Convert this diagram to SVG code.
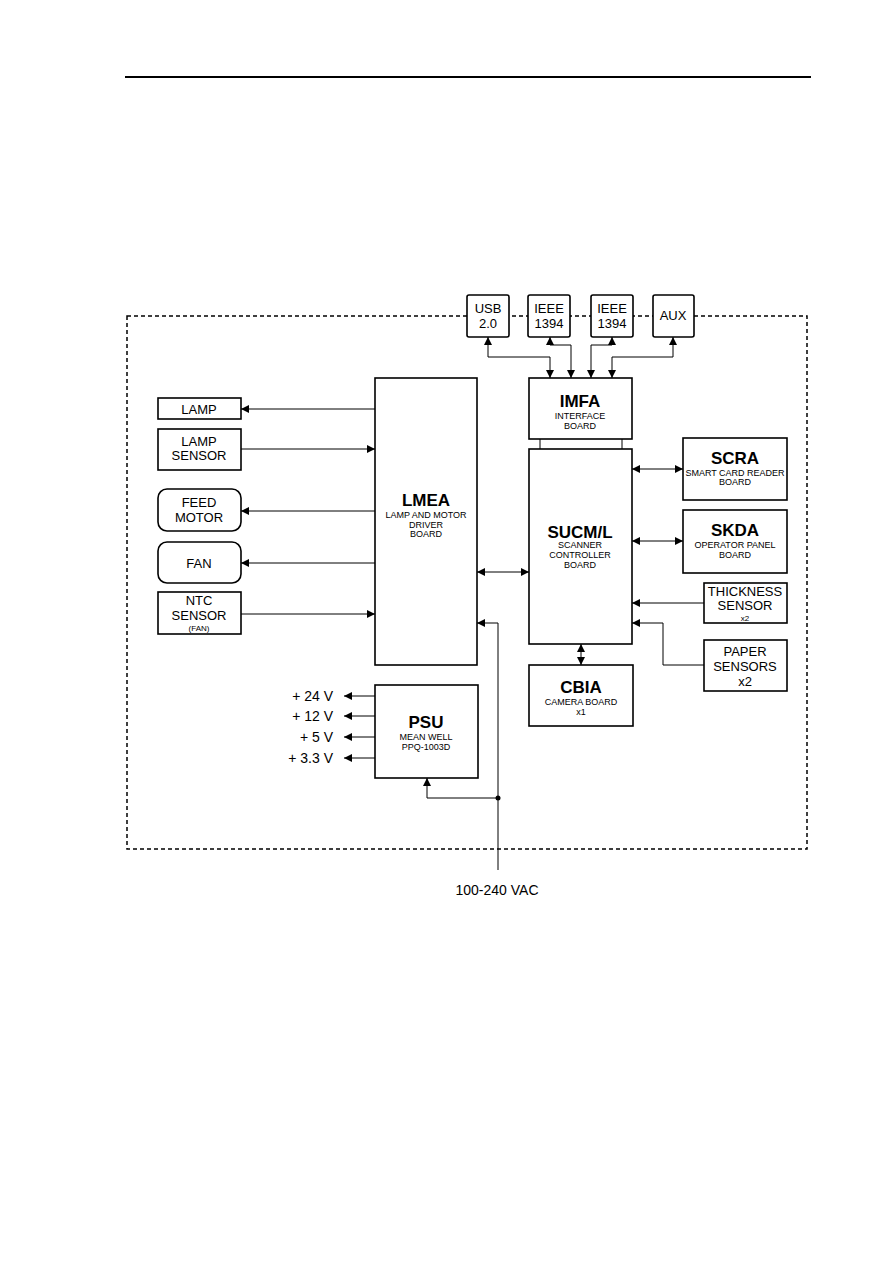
<svg xmlns="http://www.w3.org/2000/svg" width="893" height="1263" viewBox="0 0 893 1263">
<defs>
<marker id="ah" viewBox="0 0 10 10" refX="10" refY="5" markerWidth="8" markerHeight="8" markerUnits="userSpaceOnUse" orient="auto-start-reverse">
<path d="M0,0 L10,5 L0,10 Z" fill="#000"/>
</marker>
<style>
.box{fill:#fff;stroke:#000;stroke-width:1.6}
.c{fill:none;stroke:#000;stroke-width:1}
text{font-family:"Liberation Sans",Arial,sans-serif;fill:#000;text-anchor:middle}
.t{font-size:17px;font-weight:bold}
.s{font-size:9px}
.m{font-size:13px}
.v{font-size:14px;text-anchor:end}
</style>
</defs>
<rect width="893" height="1263" fill="#fff"/>
<line x1="125" y1="77" x2="811" y2="77" stroke="#000" stroke-width="2"/>
<rect x="127" y="316" width="680" height="533" fill="none" stroke="#000" stroke-width="1.5" stroke-dasharray="4,3"/>

<g id="connectors">
<polyline class="c" points="488,337 488,357 550,357 550,378" marker-start="url(#ah)" marker-end="url(#ah)"/>
<polyline class="c" points="550,337 550,345 571,345 571,378" marker-start="url(#ah)" marker-end="url(#ah)"/>
<polyline class="c" points="612,337 612,345 591,345 591,378" marker-start="url(#ah)" marker-end="url(#ah)"/>
<polyline class="c" points="673,337 673,357 612,357 612,378" marker-start="url(#ah)" marker-end="url(#ah)"/>
<line class="c" x1="540" y1="439" x2="540" y2="449"/>
<line class="c" x1="622" y1="439" x2="622" y2="449"/>
<line class="c" x1="375" y1="409" x2="241" y2="409" marker-end="url(#ah)"/>
<line class="c" x1="241" y1="449" x2="375" y2="449" marker-end="url(#ah)"/>
<line class="c" x1="375" y1="511" x2="241" y2="511" marker-end="url(#ah)"/>
<line class="c" x1="375" y1="563" x2="241" y2="563" marker-end="url(#ah)"/>
<line class="c" x1="241" y1="614" x2="375" y2="614" marker-end="url(#ah)"/>
<line class="c" x1="477" y1="572" x2="529" y2="572" marker-start="url(#ah)" marker-end="url(#ah)"/>
<line class="c" x1="632" y1="469" x2="683" y2="469" marker-start="url(#ah)" marker-end="url(#ah)"/>
<line class="c" x1="632" y1="541" x2="683" y2="541" marker-start="url(#ah)" marker-end="url(#ah)"/>
<line class="c" x1="704" y1="603" x2="632" y2="603" marker-end="url(#ah)"/>
<polyline class="c" points="704,665 663,665 663,623 632,623" marker-end="url(#ah)"/>
<line class="c" x1="581" y1="644" x2="581" y2="665" marker-start="url(#ah)" marker-end="url(#ah)"/>
<polyline class="c" points="498,870 498,623 477,623" marker-end="url(#ah)"/>
<polyline class="c" points="498,798 427,798 427,778" marker-end="url(#ah)"/>
<circle cx="498" cy="798" r="2.5" fill="#000"/>
<line class="c" x1="375" y1="696" x2="344" y2="696" marker-end="url(#ah)"/>
<line class="c" x1="375" y1="716" x2="344" y2="716" marker-end="url(#ah)"/>
<line class="c" x1="375" y1="737" x2="344" y2="737" marker-end="url(#ah)"/>
<line class="c" x1="375" y1="758" x2="344" y2="758" marker-end="url(#ah)"/>
</g>

<g id="usb"><rect class="box" x="467" y="295" width="42" height="42" rx="2"/><text class="m" x="488" y="313">USB</text><text class="m" x="488" y="328">2.0</text></g>
<g id="ieee1"><rect class="box" x="528" y="295" width="42" height="42" rx="2"/><text class="m" x="549" y="313">IEEE</text><text class="m" x="549" y="328">1394</text></g>
<g id="ieee2"><rect class="box" x="591" y="295" width="42" height="42" rx="2"/><text class="m" x="612" y="313">IEEE</text><text class="m" x="612" y="328">1394</text></g>
<g id="aux"><rect class="box" x="653" y="295" width="41" height="42" rx="2"/><text class="m" x="673" y="320">AUX</text></g>

<g id="imfa"><rect class="box" x="529" y="378" width="103" height="61"/><text class="t" x="580" y="407">IMFA</text><text class="s" x="580" y="419">INTERFACE</text><text class="s" x="580" y="429">BOARD</text></g>
<g id="sucm"><rect class="box" x="529" y="449" width="103" height="195"/><text class="t" x="580" y="538">SUCM/L</text><text class="s" x="580" y="548">SCANNER</text><text class="s" x="580" y="558">CONTROLLER</text><text class="s" x="580" y="568">BOARD</text></g>
<g id="lmea"><rect class="box" x="375" y="378" width="102" height="287"/><text class="t" x="426" y="506">LMEA</text><text class="s" x="426" y="518">LAMP AND MOTOR</text><text class="s" x="426" y="528">DRIVER</text><text class="s" x="426" y="537">BOARD</text></g>
<g id="psu"><rect class="box" x="375" y="685" width="103" height="93"/><text class="t" x="426" y="728">PSU</text><text class="s" x="426" y="740">MEAN WELL</text><text class="s" x="426" y="750">PPQ-1003D</text></g>
<g id="cbia"><rect class="box" x="529" y="665" width="104" height="61"/><text class="t" x="581" y="693">CBIA</text><text class="s" x="581" y="705">CAMERA BOARD</text><text class="s" x="581" y="715">x1</text></g>
<g id="scra"><rect class="box" x="683" y="438" width="104" height="62"/><text class="t" x="735" y="464">SCRA</text><text class="s" x="735" y="476">SMART CARD READER</text><text class="s" x="735" y="485">BOARD</text></g>
<g id="skda"><rect class="box" x="683" y="510" width="104" height="63"/><text class="t" x="735" y="536">SKDA</text><text class="s" x="735" y="548">OPERATOR PANEL</text><text class="s" x="735" y="558">BOARD</text></g>
<g id="thickness"><rect class="box" x="704" y="583" width="83" height="40"/><text class="m" x="745" y="596">THICKNESS</text><text class="m" x="745" y="610">SENSOR</text><text font-size="8" x="745" y="621">x2</text></g>
<g id="paper"><rect class="box" x="704" y="640" width="83" height="51"/><text class="m" x="745" y="656">PAPER</text><text class="m" x="745" y="671">SENSORS</text><text class="m" x="745" y="686">x2</text></g>

<g id="lamp"><rect class="box" x="158" y="398" width="83" height="21"/><text class="m" x="199" y="414">LAMP</text></g>
<g id="lampsensor"><rect class="box" x="158" y="429" width="83" height="41"/><text class="m" x="199" y="446">LAMP</text><text class="m" x="199" y="460">SENSOR</text></g>
<g id="feedmotor"><rect class="box" x="158" y="489" width="83" height="42" rx="9"/><text class="m" x="199" y="507">FEED</text><text class="m" x="199" y="522">MOTOR</text></g>
<g id="fan"><rect class="box" x="158" y="542" width="83" height="41" rx="9"/><text class="m" x="199" y="568">FAN</text></g>
<g id="ntc"><rect class="box" x="158" y="592" width="83" height="42"/><text class="m" x="199" y="605">NTC</text><text class="m" x="199" y="620">SENSOR</text><text font-size="8" x="199" y="631">(FAN)</text></g>

<g id="voltages">
<text class="v" x="333" y="701">+ 24 V</text>
<text class="v" x="333" y="721">+ 12 V</text>
<text class="v" x="333" y="742">+ 5 V</text>
<text class="v" x="333" y="763">+ 3.3 V</text>
</g>
<g id="vac"><text font-size="14" x="497" y="895">100-240 VAC</text></g>
</svg>
